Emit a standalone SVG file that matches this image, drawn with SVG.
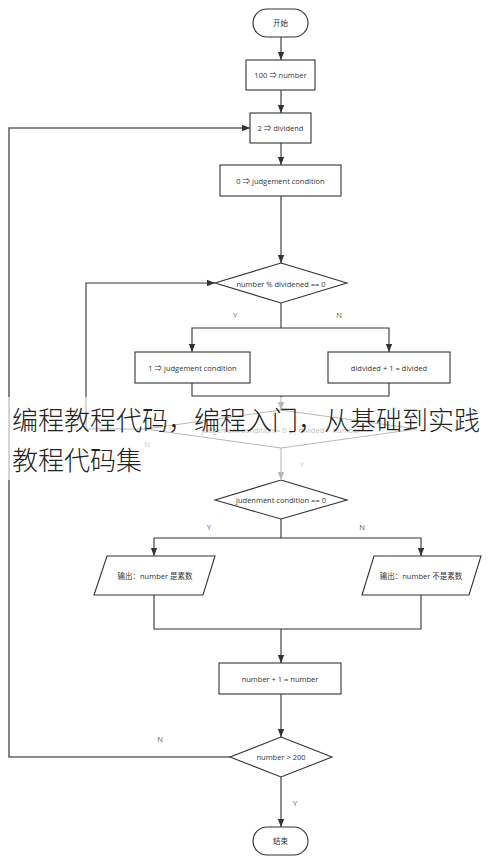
<svg xmlns="http://www.w3.org/2000/svg" width="490" height="864" viewBox="0 0 490 864">
<style>
.n{fill:#fff;stroke:#333;stroke-width:1.1}
.t{font-family:"Open Sans","Noto Sans CJK SC",sans-serif;font-size:7.5px;fill:#333;text-anchor:middle;dominant-baseline:central}
.l{font-family:"Open Sans",sans-serif;font-size:7.5px;fill:#555;text-anchor:middle;dominant-baseline:central}
.c{fill:none;stroke:#333;stroke-width:1.1}
.lp{fill:none;stroke:#666;stroke-width:1.6}
.w{font-family:"Noto Sans CJK SC",sans-serif;font-size:26px;font-weight:300;fill:#222}
</style>
<defs>
<marker id="a" markerUnits="userSpaceOnUse" markerWidth="8" markerHeight="8" refX="8" refY="4" orient="auto">
<path d="M0,0.8 L8,4 L0,7.2 z" fill="#333"/>
</marker>
</defs>
<rect width="490" height="864" fill="#fff"/>
<g id="connectors">
<path class="c" d="M281,37 V60" marker-end="url(#a)"/>
<path class="c" d="M281,90 V113" marker-end="url(#a)"/>
<path class="c" d="M281,143 V165" marker-end="url(#a)"/>
<path class="c" d="M281,196 V263" marker-end="url(#a)"/>
<path class="c" d="M281,303 V328"/>
<path class="c" d="M281,328 H192 V352" marker-end="url(#a)"/>
<path class="c" d="M281,328 H389 V352" marker-end="url(#a)"/>
<path class="c" d="M192,383 V396 H389 V383"/>
<path class="c" d="M281,396 V410" marker-end="url(#a)"/>
<path class="c" d="M145,429 H86 V283 H215" marker-end="url(#a)"/>
<path class="c" d="M281,448 V480" marker-end="url(#a)"/>
<path class="c" d="M281,519 V538"/>
<path class="c" d="M281,538 H154 V556" marker-end="url(#a)"/>
<path class="c" d="M281,538 H421 V556" marker-end="url(#a)"/>
<path class="c" d="M154,595 V629 H421 V595"/>
<path class="c" d="M281,629 V663" marker-end="url(#a)"/>
<path class="c" d="M281,694 V737" marker-end="url(#a)"/>
<path class="lp" d="M230,757 H9 V128 H250" marker-end="url(#a)"/>
<path class="c" d="M281,777 V827" marker-end="url(#a)"/>
<text class="l" x="235" y="315">Y</text>
<text class="l" x="339" y="315">N</text>
<text class="l" x="147" y="444">N</text>
<text class="l" x="302" y="464">Y</text>
<text class="l" x="209" y="527">Y</text>
<text class="l" x="362" y="527">N</text>
<text class="l" x="160" y="739">N</text>
<text class="l" x="295" y="803">Y</text>
</g>
<g id="start"><rect class="n" x="253" y="9" width="55" height="28" rx="14"/><text class="t" x="280.5" y="23">开始</text></g>
<g id="init-number"><rect class="n" x="246" y="60" width="69" height="30"/><text class="t" x="280.5" y="75">100 ⇒ number</text></g>
<g id="init-dividend"><rect class="n" x="250" y="113" width="61" height="30"/><text class="t" x="280.5" y="128">2 ⇒ dividend</text></g>
<g id="init-cond"><rect class="n" x="220" y="165" width="121" height="31"/><text class="t" x="280.5" y="181">0 ⇒ judgement condition</text></g>
<g id="check-mod"><path class="n" d="M281,263 L347,283 L281,303 L215,283 Z"/><text class="t" x="281" y="284">number % dividened == 0</text></g>
<g id="set-cond"><rect class="n" x="135" y="352" width="115" height="31"/><text class="t" x="192.5" y="368">1 ⇒ judgement condition</text></g>
<g id="inc-divided"><rect class="n" x="328" y="352" width="122" height="31"/><text class="t" x="389" y="368">didvided + 1 = divided</text></g>
<g id="check-loop"><path class="n" d="M281,410 L417,429 L281,448 L145,429 Z"/><text class="t" x="281" y="430">judgement condition = 0 || divided &gt; number</text></g>
<g id="check-cond"><path class="n" d="M281,480 L347,500 L281,519 L215,500 Z"/><text class="t" x="281" y="500">judenment condition == 0</text></g>
<g id="out-prime"><path class="n" d="M107,556 L215,556 L203,595 L94,595 Z"/><text class="t" x="155" y="576">输出：number 是素数</text></g>
<g id="out-notprime"><path class="n" d="M374,556 L481,556 L469,595 L362,595 Z"/><text class="t" x="421" y="576">输出：number 不是素数</text></g>
<g id="inc-number"><rect class="n" x="219" y="663" width="122" height="31"/><text class="t" x="280" y="679">number + 1 = number</text></g>
<g id="check-end"><path class="n" d="M281,737 L332,757 L281,777 L230,757 Z"/><text class="t" x="281" y="757">number &gt; 200</text></g>
<g id="end"><rect class="n" x="253" y="827" width="55" height="28" rx="14"/><text class="t" x="280.5" y="841">结束</text></g>
<g id="caption">
<rect x="8" y="397" width="474" height="83" fill="#fff" fill-opacity="0.65"/>
<text class="w" x="12" y="430">编程教程代码，编程入门，从基础到实践</text>
<text class="w" x="12" y="470">教程代码集</text>
</g>
</svg>
